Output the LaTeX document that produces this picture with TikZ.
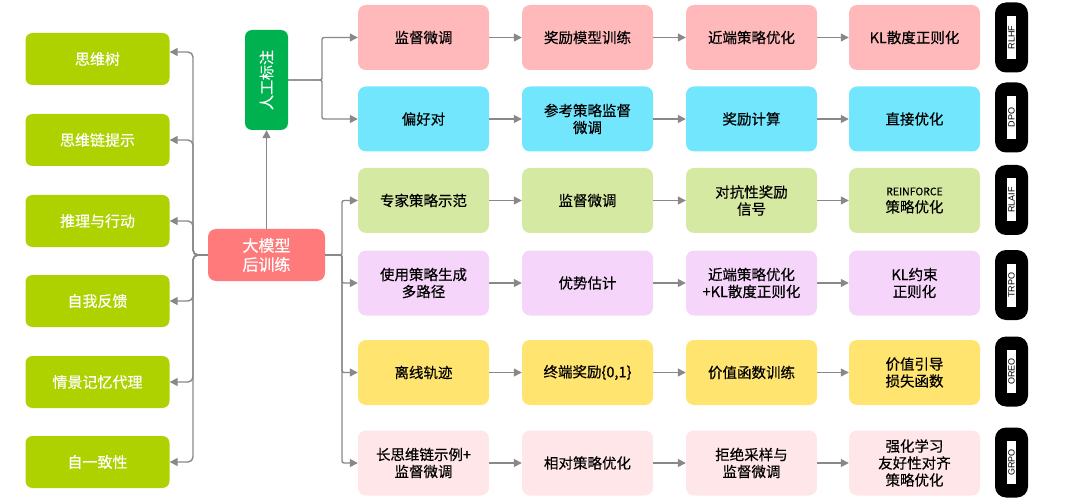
\documentclass[tikz,border=0pt]{standalone}
\usepackage{fontspec}
\setmainfont{Noto Sans CJK SC}[FakeBold=0.4]
\newfontfamily\tabfont{Liberation Sans}
\usetikzlibrary{arrows.meta,calc}
\definecolor{lgreen}{HTML}{ADD200}
\definecolor{dgreen}{HTML}{00B14F}
\definecolor{salmon}{HTML}{FF7B7B}
\definecolor{rowA}{HTML}{FFB9BB}
\definecolor{rowB}{HTML}{72E6FC}
\definecolor{rowC}{HTML}{D6E9A2}
\definecolor{rowD}{HTML}{F6D5FB}
\definecolor{rowE}{HTML}{FFE470}
\definecolor{rowF}{HTML}{FFE6E9}
\definecolor{linegray}{HTML}{8A8788}
\begin{document}
\begin{tikzpicture}[x=1pt,y=-1pt,
  box/.style={rounded corners=8pt, minimum width=131pt, minimum height=65pt, align=center,
    font=\fontsize{14.5}{17}\selectfont, inner sep=2pt, text=black},
  leftbox/.style={rounded corners=7pt, fill=lgreen, text=white, minimum width=144pt, minimum height=52pt,
    align=center, font=\fontsize{15}{17}\selectfont},
  tabbox/.style={rounded corners=11pt, fill=black, minimum width=33pt, minimum height=70pt},
  tablabel/.style={fill=white, minimum width=43pt, minimum height=8.5pt, inner sep=0pt,
    font=\tabfont\fontsize{9}{9}\selectfont, rotate=90},
  conn/.style={draw=linegray, line width=1.4pt},
  arr/.style={conn, -{Triangle[length=8pt,width=8pt]}}
]
\useasboundingbox (0,0) rectangle (1080,500);

% left column
\node[leftbox] (l1) at (97.5,59) {思维树};
\node[leftbox] (l2) at (97.5,140) {思维链提示};
\node[leftbox] (l3) at (97.5,221) {推理与行动};
\node[leftbox] (l4) at (97.5,301) {自我反馈};
\node[leftbox] (l5) at (97.5,382) {情景记忆代理};
\node[leftbox] (l6) at (97.5,462) {自一致性};

% center
\node[rounded corners=8pt, fill=salmon, text=white, minimum width=117pt, minimum height=52pt,
  align=center, font=\fontsize{16}{19}\selectfont] (big) at (266.5,255) {大模型\\后训练};
\node[rounded corners=7pt, fill=dgreen, minimum width=43pt, minimum height=100pt] (ann) at (266.5,80) {};
\node[rotate=90, text=white, font=\fontsize{15}{17}\selectfont] at (ann) {人工标注};

% rows
\node[box, fill=rowA] (r1c1) at (423.5,37.5) {监督微调};
\node[box, fill=rowA] (r1c2) at (587.5,37.5) {奖励模型训练};
\node[box, fill=rowA] (r1c3) at (751.5,37.5) {近端策略优化};
\node[box, fill=rowA] (r1c4) at (914.5,37.5) {KL散度正则化};

\node[box, fill=rowB] (r2c1) at (423.5,119) {偏好对};
\node[box, fill=rowB] (r2c2) at (587.5,119) {参考策略监督\\微调};
\node[box, fill=rowB] (r2c3) at (751.5,119) {奖励计算};
\node[box, fill=rowB] (r2c4) at (914.5,119) {直接优化};

\node[box, fill=rowC] (r3c1) at (423.5,200.5) {专家策略示范};
\node[box, fill=rowC] (r3c2) at (587.5,200.5) {监督微调};
\node[box, fill=rowC] (r3c3) at (751.5,200.5) {对抗性奖励\\信号};
\node[box, fill=rowC] (r3c4) at (914.5,200.5) {{\fontsize{10.5}{14}\selectfont REINFORCE}\\策略优化};

\node[box, fill=rowD] (r4c1) at (423.5,283) {使用策略生成\\多路径};
\node[box, fill=rowD] (r4c2) at (587.5,283) {优势估计};
\node[box, fill=rowD] (r4c3) at (751.5,283) {近端策略优化\\+KL散度正则化};
\node[box, fill=rowD] (r4c4) at (914.5,283) {KL约束\\正则化};

\node[box, fill=rowE] (r5c1) at (423.5,372.5) {离线轨迹};
\node[box, fill=rowE] (r5c2) at (587.5,372.5) {终端奖励\{0,1\}};
\node[box, fill=rowE] (r5c3) at (751.5,372.5) {价值函数训练};
\node[box, fill=rowE] (r5c4) at (914.5,372.5) {价值引导\\损失函数};

\node[box, fill=rowF] (r6c1) at (423.5,463) {长思维链示例+\\监督微调};
\node[box, fill=rowF] (r6c2) at (587.5,463) {相对策略优化};
\node[box, fill=rowF] (r6c3) at (751.5,463) {拒绝采样与\\监督微调};
\node[box, fill=rowF] (r6c4) at (914.5,463) {强化学习\\友好性对齐\\策略优化};

% tabs
\node[tabbox] (t1) at (1011.5,37.5) {};
\node[tablabel] at (t1) {RLHF};
\node[tabbox] (t2) at (1011.5,117.5) {};
\node[tablabel] at (t2) {DPO};
\node[tabbox] (t3) at (1011.5,200) {};
\node[tablabel] at (t3) {RLAIF};
\node[tabbox] (t4) at (1011.5,285) {};
\node[tablabel] at (t4) {TRPO};
\node[tabbox] (t5) at (1011.5,371.5) {};
\node[tablabel] at (t5) {OREO};
\node[tabbox] (t6) at (1011.5,462.5) {};
\node[tablabel] at (t6) {GRPO};

% row arrows
\foreach \r in {1,...,6}{
  \draw[arr] (r\r c1.east) -- (r\r c2.west);
  \draw[arr] (r\r c2.east) -- (r\r c3.west);
  \draw[arr] (r\r c3.east) -- (r\r c4.west);
}

% left connectors
\coordinate (lx) at (193,255);
\coordinate (l1in) at ($(l1.east)+(0,-7)$);
\draw[arr, rounded corners=5pt] (big.west) -- (lx) |- (l1in);
\foreach \i in {2,...,6}{
  \draw[arr, rounded corners=5pt] (big.west) -- (lx) |- (l\i.east);
}

% right connectors
\coordinate (rx) at (342,255);
\foreach \r in {3,...,6}{
  \draw[arr, rounded corners=2pt] (big.east) -- (rx) |- (r\r c1.west);
}

% annotation
\draw[arr] (big.north) -- (ann.south);
\coordinate (ax) at (322,80);
\foreach \r in {1,2}{
  \draw[arr, rounded corners=2pt] (ann.east) -- (ax) |- (r\r c1.west);
}
\end{tikzpicture}
\end{document}
